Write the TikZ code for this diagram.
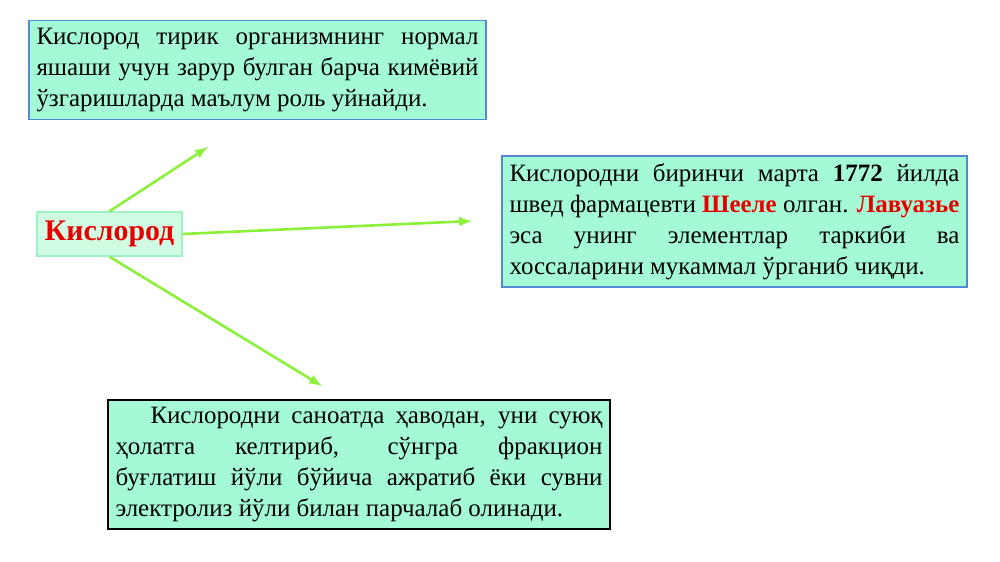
\documentclass[tikz,border=0pt]{standalone}
\usepackage{fontspec}
\setmainfont{Liberation Serif}
\usepackage{tikz}
\usetikzlibrary{arrows,positioning}
\definecolor{boxfill}{RGB}{164,250,212}
\definecolor{kisfill}{RGB}{208,252,228}
\definecolor{kisline}{RGB}{160,240,196}
\definecolor{blueline}{RGB}{84,136,210}
\definecolor{arrowgreen}{RGB}{140,240,60}
\definecolor{redtext}{RGB}{230,0,0}

\begin{document}
\begin{tikzpicture}[thick]
   \useasboundingbox (0,0) rectangle (20,11.24);
   \begin{scope}[every node/.style={rectangle,fill=boxfill,inner sep=0.15cm,align=justify,font=\fontsize{14.2}{17.6}\selectfont}]
    \node (info1) [draw=blueline,text width=8.84cm,minimum height=1.96cm] at (5.15,9.84) {Кислород тирик организмнинг нормал\linebreak яшаши учун зарур булган барча кимёвий\linebreak ўзгаришларда маълум роль уйнайди.};
    \node (kis) [draw=kisline,fill=kisfill,align=center,text width=2.6cm,minimum height=0.88cm,font=\fontsize{17}{20}\selectfont\bfseries,text=redtext] at (2.19,6.56) {Кислород};
    \node (info2) [draw=blueline,text width=9.0cm,minimum height=2.58cm] at (14.69,6.81) {Кислородни биринчи марта \textbf{1772} йилда\linebreak швед фармацевти \textcolor{redtext}{\textbf{Шееле}} олган. \textcolor{redtext}{\textbf{Лавуазье}}\linebreak эса унинг элементлар таркиби ва\linebreak хоссаларини мукаммал ўрганиб чиқди.};
    \node (info3) [draw=black,very thick,text width=9.74cm,minimum height=2.58cm] at (7.18,1.95) {\hspace*{0.7cm}Кислородни саноатда ҳаводан, уни суюқ\linebreak ҳолатга келтириб, сўнгра фракцион\linebreak буғлатиш йўли бўйича ажратиб ёки сувни\linebreak электролиз йўли билан парчалаб олинади.};
   \end{scope}
   \coordinate (e1) at (4.16,8.30);
   \coordinate (e2) at (9.44,6.82);
   \coordinate (e3) at (6.44,3.52);
   \begin{scope}[every edge/.style={draw=arrowgreen,line width=1.5pt,-latex}]
    \path  (kis.north) edge (e1);
    \path  (kis.east) edge (e2);
    \path  (kis.south) edge (e3);
   \end{scope}
\end{tikzpicture}
\end{document}
